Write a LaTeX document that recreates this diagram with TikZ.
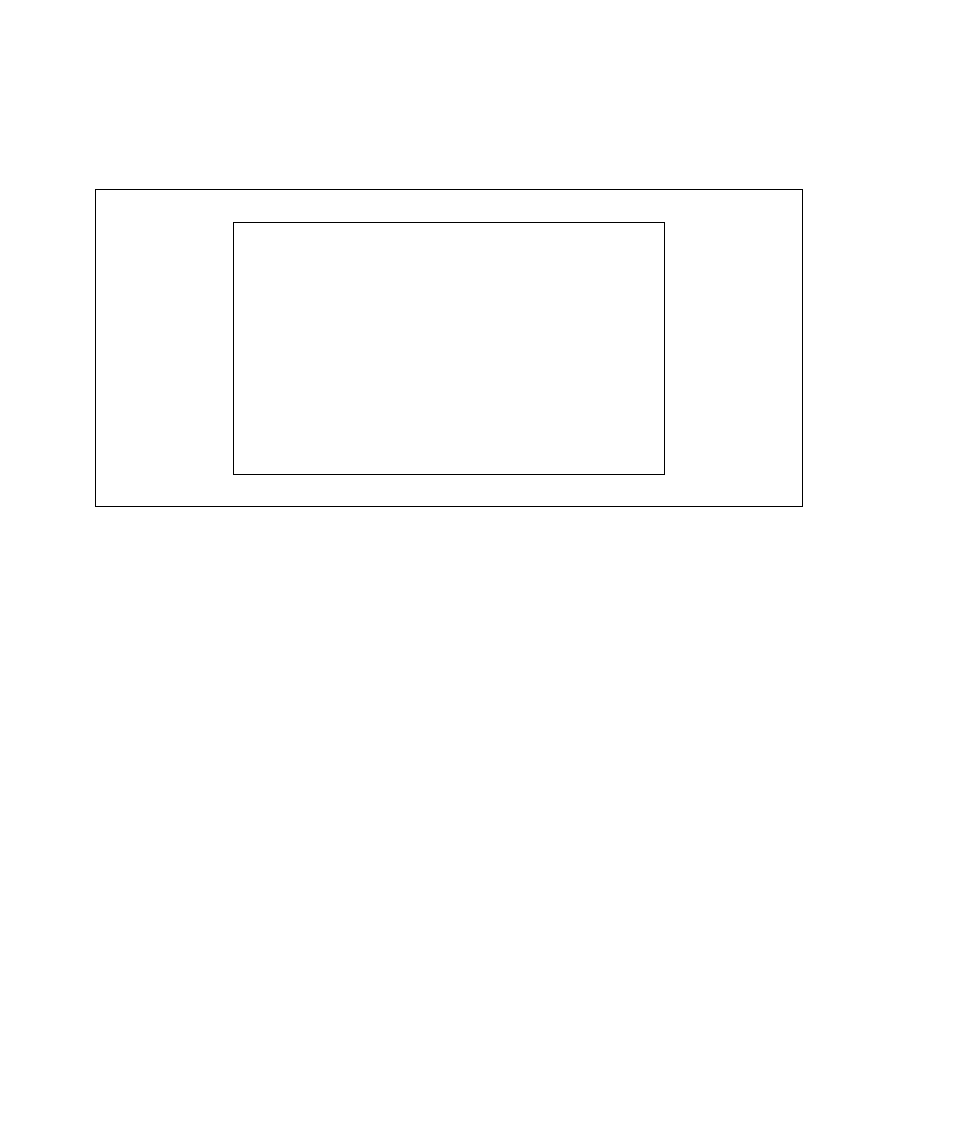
\documentclass[tikz,border=0pt]{standalone}
\begin{document}
\begin{tikzpicture}[x=0.75pt,y=-0.75pt,
  box/.style={draw=black,line width=0.75pt,fill=none,inner sep=0pt,outer sep=0pt,rectangle}]
\useasboundingbox[fill=white] (0,0) rectangle (954,1145);
\node[box,minimum width=707*0.75pt,minimum height=317*0.75pt] (outer) at (448.5,347.5) {};
\node[box,minimum width=431*0.75pt,minimum height=252*0.75pt] (inner) at (448.5,348) {};
\end{tikzpicture}
\end{document}
